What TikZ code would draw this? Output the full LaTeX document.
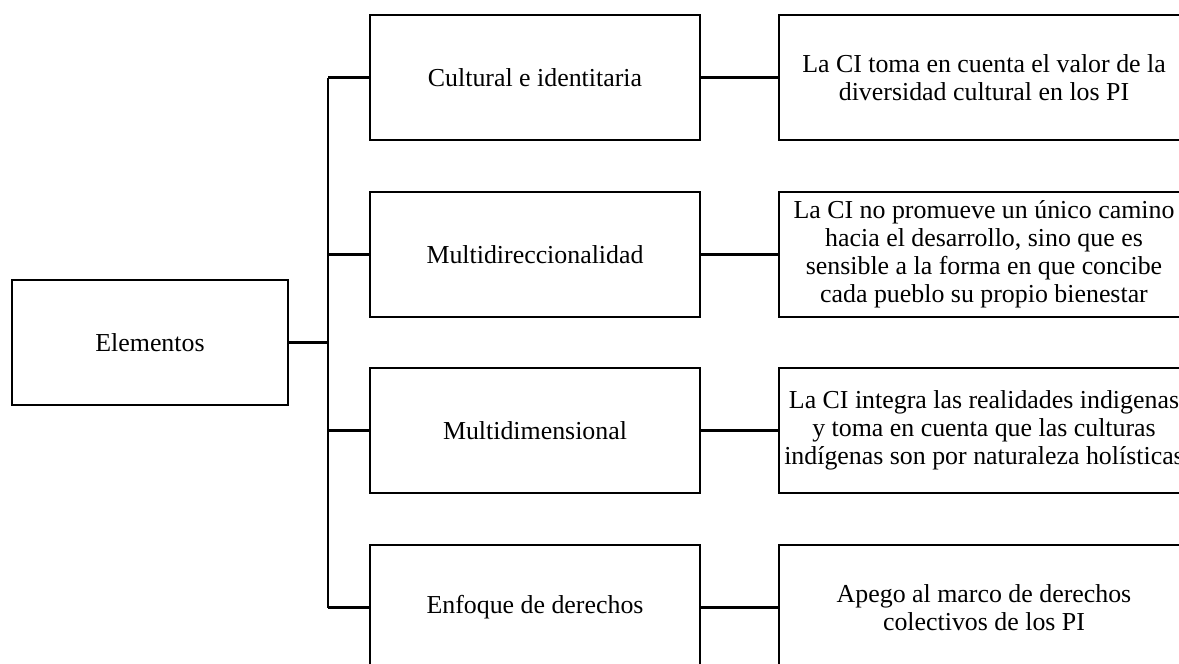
\documentclass[tikz,border=0pt]{standalone}
\usepackage{fontspec}
\setmainfont{Liberation Serif}
\tikzset{
  box/.style={draw, line width=1.7pt, align=center, inner sep=0pt,
    minimum height=3.125cm, font=\fontsize{18.4}{19.8}\selectfont},
  elem/.style={box, minimum width=6.9cm},
  mid/.style={box, minimum width=8.25cm},
  desc/.style={box, minimum width=10.25cm},
  link/.style={line width=1.7pt}
}
\begin{document}
\begin{tikzpicture}[x=0.025cm,y=-0.025cm]
\clip (0,0) rectangle (1179,664);
% left box
\node[elem] (root) at (150,342.5) {Elementos};
% middle column
\node[mid] (m1) at (535,77.5) {Cultural e identitaria};
\node[mid] (m2) at (535,254.5) {Multidireccionalidad};
\node[mid] (m3) at (535,430.5) {Multidimensional};
\node[mid] (m4) at (535,607.5) {Enfoque de derechos};
% right column
\node[desc] (r1) at (984,77.5) {La CI toma en cuenta el valor de la\\diversidad cultural en los PI};
\node[desc] (r2) at (984,254.5) {La CI no promueve un único camino\\hacia el desarrollo, sino que es\\sensible a la forma en que concibe\\cada pueblo su propio bienestar};
\node[desc] (r3) at (984,430.5) {La CI integra las realidades indigenas\\y toma en cuenta que las culturas\\indígenas son por naturaleza holísticas};
\node[desc] (r4) at (984,607.5) {Apego al marco de derechos\\colectivos de los PI};
% connectors
\coordinate (j) at (328,342.5);
\draw[link] (root.east) -- (j);
\draw[link] (j |- m1.west) -- (j |- m4.west);
\foreach \i in {1,...,4}{
  \draw[link] (j |- m\i.west) -- (m\i.west);
  \draw[link] (m\i.east) -- (r\i.west);
}
\end{tikzpicture}
\end{document}
